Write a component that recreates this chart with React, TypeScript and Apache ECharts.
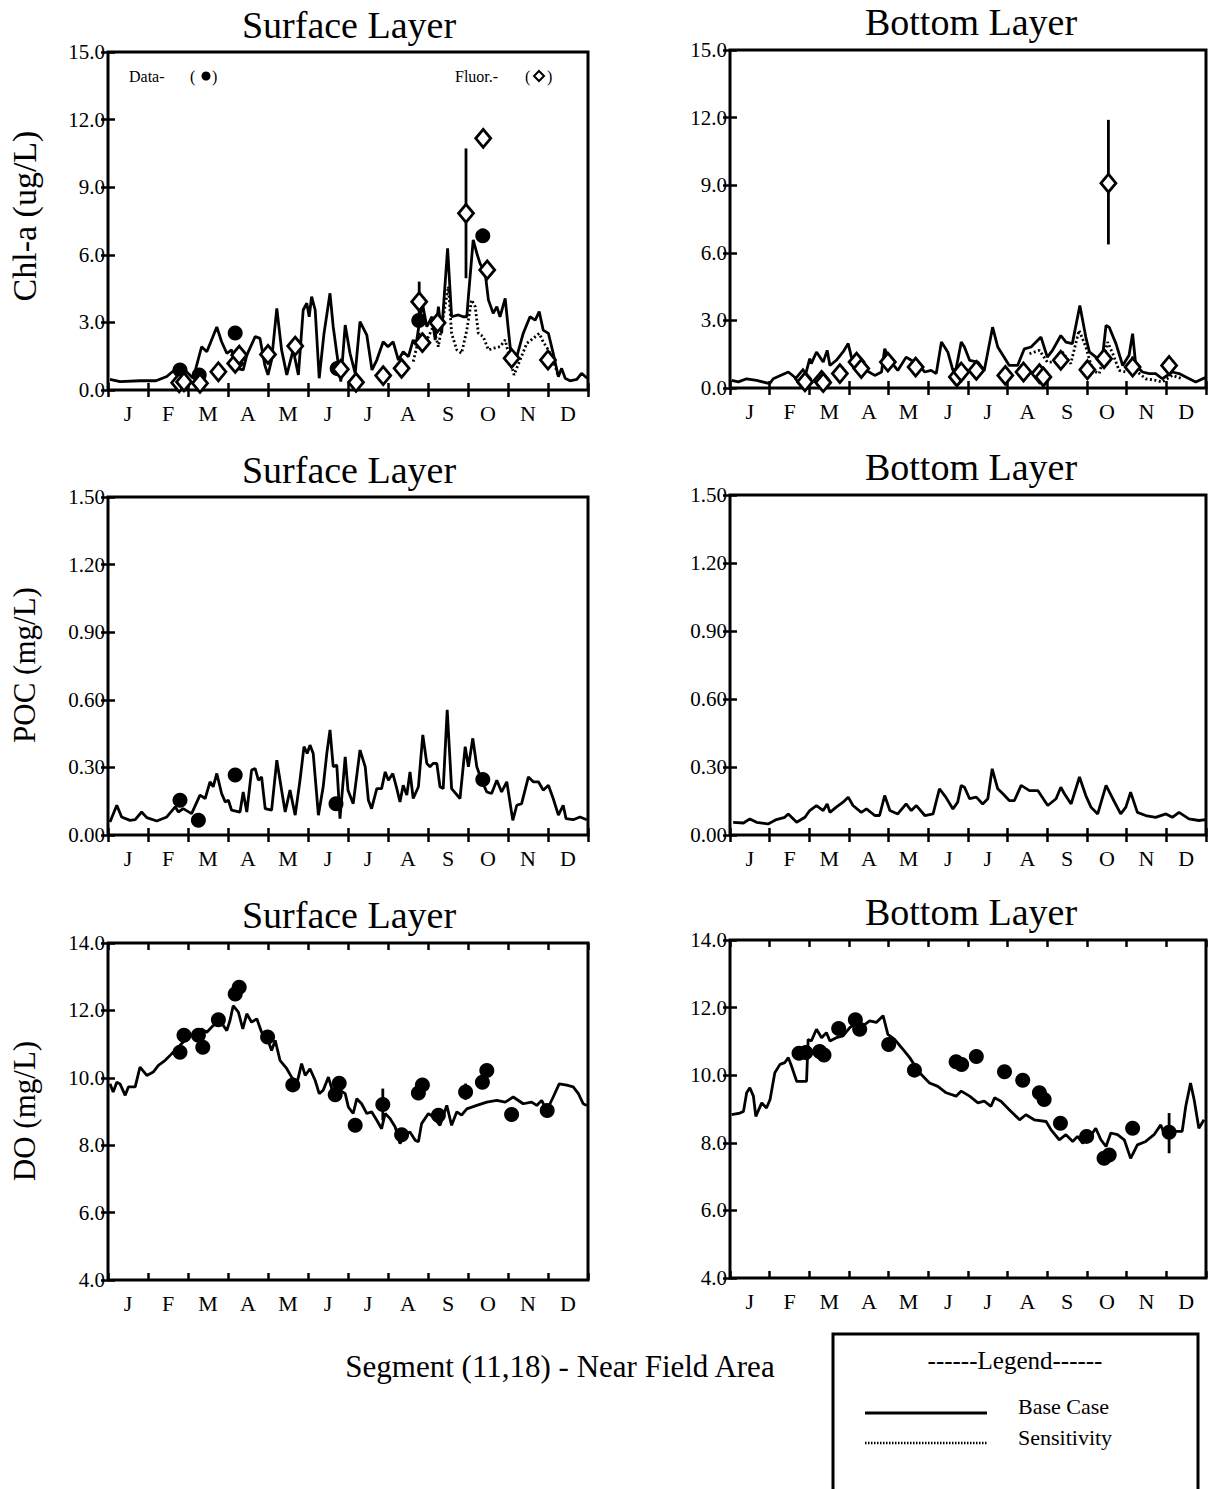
import React, { useEffect, useRef } from "react";
import * as echarts from "echarts";

type P = [number, number];
type E = [number, number, number];

const MONTHS = ["J", "F", "M", "A", "M", "J", "J", "A", "S", "O", "N", "D"];
const TITLES = ["Surface Layer", "Bottom Layer"];
const Y_NAMES = ["Chl-a (ug/L)", "POC (mg/L)", "DO (mg/L)"];
const CAPTION = "Segment (11,18) - Near Field Area";

// x values are months from Jan 1 (0) to Dec 31 (12)

// ---------- Chl-a, surface ----------
const chlSurfBase: P[] = [
  [0.05, 0.47], [0.3, 0.37], [0.8, 0.41], [1.2, 0.41], [1.47, 0.6], [1.8, 1.1], [2.0, 0.74], [2.13, 0.52],
  [2.34, 1.92], [2.47, 1.7], [2.72, 2.8], [2.84, 2.14], [2.97, 1.63], [3.09, 1.78], [3.22, 0.96], [3.38, 0.89],
  [3.47, 1.55], [3.68, 2.37], [3.8, 2.29], [3.92, 1.11], [4.0, 0.67], [4.09, 1.33], [4.22, 3.62], [4.34, 1.78],
  [4.47, 0.67], [4.63, 1.78], [4.76, 0.67], [4.88, 3.55], [4.97, 3.85], [5.03, 3.25], [5.09, 4.14], [5.18, 3.55],
  [5.28, 0.52], [5.4, 2.51], [5.55, 4.29], [5.63, 2.81], [5.72, 1.63], [5.82, 0.37], [5.93, 2.88], [6.05, 1.63],
  [6.18, 0.74], [6.3, 3.03], [6.47, 2.44], [6.6, 0.89], [6.72, 1.33], [6.88, 2.14], [7.0, 1.92], [7.13, 2.14],
  [7.26, 1.33], [7.38, 1.7], [7.51, 1.48], [7.63, 2.22], [7.7, 2.0], [7.86, 3.85], [7.97, 2.81], [8.1, 3.25],
  [8.18, 2.22], [8.26, 3.7], [8.34, 2.51], [8.49, 6.29], [8.59, 3.25], [8.76, 3.33], [8.88, 3.25], [8.97, 3.25],
  [9.01, 4.14], [9.13, 6.66], [9.22, 6.07], [9.3, 5.62], [9.43, 5.18], [9.51, 4.0], [9.63, 3.4], [9.72, 3.7],
  [9.8, 3.25], [9.93, 4.07], [10.01, 2.66], [10.09, 1.33], [10.22, 1.48], [10.38, 2.51], [10.55, 3.25], [10.68, 3.1],
  [10.78, 3.48], [10.88, 2.66], [11.01, 2.51], [11.13, 1.63], [11.26, 0.59], [11.34, 0.96], [11.43, 0.52], [11.55, 0.41],
  [11.72, 0.47], [11.84, 0.74], [11.98, 0.52],
];
const chlSurfSens: P[] = [
  [7.63, 1.26], [7.8, 2.51], [7.97, 2.22], [8.13, 2.81], [8.26, 1.92], [8.38, 3.25], [8.51, 4.59], [8.59, 2.51],
  [8.72, 1.78], [8.84, 1.63], [8.97, 2.66], [9.09, 4.0], [9.18, 3.7], [9.26, 2.51], [9.38, 2.37], [9.51, 1.78],
  [9.63, 1.85], [9.8, 1.92], [9.93, 2.22], [10.05, 1.33], [10.15, 0.67], [10.3, 1.33], [10.47, 2.07], [10.63, 2.29],
  [10.78, 2.51], [10.88, 2.14], [11.01, 1.78], [11.13, 1.33], [11.26, 0.59],
];
const chlSurfData: P[] = [[1.8, 0.89], [2.28, 0.67], [3.18, 2.53], [5.73, 0.95], [7.77, 3.08], [9.37, 6.84]];
const chlSurfFluor: P[] = [
  [1.78, 0.32], [1.9, 0.36], [2.3, 0.3], [2.76, 0.81], [3.18, 1.18], [3.28, 1.55], [4.0, 1.58], [4.68, 1.95],
  [5.82, 0.92], [6.2, 0.34], [6.88, 0.64], [7.34, 0.96], [7.78, 3.92], [7.86, 2.1], [8.24, 2.98], [8.95, 7.84],
  [9.38, 11.17], [9.48, 5.33], [10.09, 1.41], [11.0, 1.33],
];
const chlSurfErr: E[] = [[7.78, 2.96, 4.81], [8.95, 4.96, 10.72]];

// ---------- Chl-a, bottom ----------
const chlBotBase: P[] = [
  [0.04, 0.34], [0.21, 0.27], [0.42, 0.41], [0.67, 0.34], [1.0, 0.19], [1.09, 0.41], [1.47, 0.71], [1.68, 0.41],
  [1.89, 0.49], [2.01, 1.3], [2.05, 1.08], [2.18, 1.6], [2.35, 1.15], [2.45, 1.67], [2.52, 1.0], [2.68, 1.23],
  [2.85, 1.6], [2.98, 1.97], [3.06, 1.37], [3.23, 1.15], [3.44, 0.78], [3.65, 0.56], [3.82, 0.71], [3.9, 1.74],
  [4.03, 1.23], [4.23, 0.78], [4.44, 1.37], [4.57, 1.23], [4.7, 1.15], [4.91, 0.71], [5.07, 0.78], [5.2, 0.64],
  [5.33, 2.04], [5.49, 1.6], [5.62, 0.78], [5.7, 0.86], [5.83, 2.04], [5.91, 1.82], [6.04, 1.23], [6.25, 1.15],
  [6.41, 0.78], [6.62, 2.7], [6.75, 1.82], [6.88, 1.45], [7.04, 1.0], [7.25, 1.0], [7.42, 1.74], [7.59, 1.82],
  [7.84, 2.26], [8.0, 1.37], [8.13, 1.67], [8.34, 2.33], [8.47, 2.04], [8.63, 1.97], [8.82, 3.66], [8.97, 2.26],
  [9.06, 1.6], [9.27, 1.3], [9.4, 1.52], [9.48, 2.78], [9.56, 2.7], [9.73, 1.97], [9.9, 1.0], [10.06, 1.45],
  [10.15, 2.41], [10.23, 1.0], [10.4, 0.71], [10.57, 0.64], [10.73, 0.64], [10.9, 0.41], [11.15, 0.71], [11.32, 0.64],
  [11.49, 0.49], [11.74, 0.27], [11.98, 0.46],
];
const chlBotSens: P[] = [
  [7.55, 1.52], [7.8, 1.67], [8.0, 1.15], [8.22, 1.15], [8.38, 1.6], [8.59, 1.08], [8.8, 2.56], [8.97, 1.82],
  [9.14, 0.78], [9.31, 0.64], [9.52, 2.04], [9.65, 1.52], [9.81, 0.78], [9.98, 0.71], [10.15, 1.37], [10.27, 0.71],
  [10.48, 0.41], [10.73, 0.34], [10.9, 0.27], [11.15, 0.56], [11.4, 0.41],
];
const chlBotFluor: P[] = [
  [1.84, 0.41], [1.89, 0.27], [2.31, 0.34], [2.35, 0.24], [2.77, 0.64], [3.19, 1.15], [3.31, 0.86], [3.98, 1.15],
  [4.68, 0.93], [5.72, 0.49], [5.83, 0.71], [6.21, 0.78], [6.94, 0.56], [7.4, 0.71], [7.8, 0.64], [7.9, 0.49],
  [8.34, 1.23], [9.01, 0.81], [9.43, 1.3], [9.54, 9.09], [10.15, 0.93], [11.07, 1.0],
];
const chlBotErr: E[] = [[9.54, 6.37, 11.9]];

// ---------- POC, surface ----------
const pocSurfBase: P[] = [
  [0.05, 0.058], [0.22, 0.132], [0.34, 0.08], [0.55, 0.065], [0.68, 0.068], [0.84, 0.102], [0.97, 0.077], [1.22, 0.062],
  [1.47, 0.08], [1.68, 0.125], [1.76, 0.102], [1.88, 0.117], [2.09, 0.095], [2.3, 0.177], [2.43, 0.162], [2.55, 0.236],
  [2.63, 0.214], [2.72, 0.273], [2.84, 0.184], [2.93, 0.147], [3.01, 0.154], [3.09, 0.11], [3.3, 0.102], [3.38, 0.191],
  [3.47, 0.102], [3.59, 0.288], [3.68, 0.295], [3.76, 0.243], [3.84, 0.258], [3.93, 0.117], [4.09, 0.11], [4.22, 0.332],
  [4.34, 0.199], [4.43, 0.102], [4.55, 0.199], [4.68, 0.088], [4.8, 0.243], [4.9, 0.392], [4.98, 0.362], [5.05, 0.399],
  [5.13, 0.362], [5.26, 0.088], [5.38, 0.214], [5.47, 0.362], [5.55, 0.466], [5.63, 0.303], [5.72, 0.31], [5.8, 0.073],
  [5.93, 0.347], [6.0, 0.199], [6.13, 0.139], [6.3, 0.377], [6.43, 0.303], [6.51, 0.154], [6.59, 0.117], [6.72, 0.206],
  [6.84, 0.206], [6.93, 0.28], [7.01, 0.243], [7.12, 0.273], [7.22, 0.206], [7.3, 0.147], [7.38, 0.221], [7.47, 0.177],
  [7.55, 0.28], [7.63, 0.162], [7.76, 0.214], [7.87, 0.444], [7.97, 0.318], [8.05, 0.303], [8.13, 0.318], [8.22, 0.318],
  [8.3, 0.214], [8.38, 0.206], [8.48, 0.555], [8.59, 0.206], [8.8, 0.162], [8.93, 0.392], [9.01, 0.303], [9.12, 0.429],
  [9.22, 0.303], [9.34, 0.243], [9.47, 0.191], [9.59, 0.184], [9.72, 0.243], [9.84, 0.191], [9.97, 0.236], [10.12, 0.065],
  [10.22, 0.132], [10.34, 0.139], [10.51, 0.258], [10.63, 0.236], [10.76, 0.236], [10.88, 0.199], [11.01, 0.221], [11.13, 0.162],
  [11.26, 0.088], [11.38, 0.132], [11.45, 0.073], [11.63, 0.068], [11.8, 0.08], [11.97, 0.068],
];
const pocSurfData: P[] = [[1.8, 0.154], [2.26, 0.065], [3.18, 0.266], [5.7, 0.139], [9.37, 0.246]];

// ---------- POC, bottom ----------
const pocBotBase: P[] = [
  [0.08, 0.056], [0.34, 0.053], [0.5, 0.071], [0.67, 0.056], [0.96, 0.049], [1.17, 0.068], [1.38, 0.078], [1.47, 0.093],
  [1.68, 0.056], [1.89, 0.078], [2.01, 0.108], [2.18, 0.13], [2.35, 0.108], [2.45, 0.137], [2.52, 0.1], [2.68, 0.123],
  [2.85, 0.145], [2.98, 0.167], [3.1, 0.13], [3.31, 0.1], [3.44, 0.115], [3.65, 0.086], [3.77, 0.086], [3.9, 0.174],
  [4.03, 0.108], [4.23, 0.093], [4.44, 0.137], [4.57, 0.108], [4.7, 0.13], [4.91, 0.086], [5.12, 0.093], [5.28, 0.204],
  [5.44, 0.167], [5.62, 0.115], [5.74, 0.145], [5.83, 0.219], [5.91, 0.211], [6.04, 0.16], [6.21, 0.167], [6.37, 0.137],
  [6.5, 0.16], [6.61, 0.292], [6.75, 0.204], [6.88, 0.182], [7.04, 0.152], [7.17, 0.152], [7.34, 0.219], [7.55, 0.196],
  [7.76, 0.196], [8.01, 0.13], [8.22, 0.16], [8.34, 0.211], [8.43, 0.182], [8.6, 0.137], [8.81, 0.256], [8.97, 0.174],
  [9.1, 0.123], [9.27, 0.093], [9.48, 0.219], [9.65, 0.16], [9.85, 0.093], [9.98, 0.123], [10.1, 0.189], [10.27, 0.1],
  [10.48, 0.086], [10.73, 0.078], [10.99, 0.093], [11.15, 0.078], [11.32, 0.1], [11.57, 0.071], [11.82, 0.064], [11.99, 0.068],
];

// ---------- DO, surface ----------
const doSurfBase: P[] = [
  [0.05, 9.82], [0.13, 9.58], [0.22, 9.87], [0.3, 9.82], [0.43, 9.48], [0.51, 9.73], [0.68, 9.73], [0.8, 10.32],
  [0.97, 10.07], [1.13, 10.17], [1.26, 10.37], [1.43, 10.52], [1.59, 10.71], [1.72, 10.86], [1.88, 11.06], [2.01, 11.21],
  [2.13, 11.31], [2.26, 11.35], [2.34, 11.45], [2.47, 11.35], [2.63, 11.55], [2.8, 11.7], [2.97, 11.4], [3.05, 11.7],
  [3.13, 12.14], [3.26, 11.95], [3.37, 11.45], [3.47, 11.9], [3.59, 11.65], [3.72, 11.75], [3.84, 11.35], [3.97, 11.21],
  [4.09, 10.81], [4.18, 11.11], [4.3, 10.52], [4.47, 10.27], [4.59, 10.02], [4.72, 9.82], [4.84, 10.42], [4.93, 10.07],
  [5.05, 10.27], [5.18, 9.92], [5.28, 9.53], [5.38, 9.63], [5.51, 10.02], [5.63, 9.53], [5.8, 9.63], [5.93, 9.53],
  [6.01, 9.13], [6.13, 8.94], [6.22, 9.38], [6.34, 9.23], [6.47, 8.94], [6.59, 8.99], [6.72, 8.74], [6.84, 8.49],
  [6.93, 8.94], [7.05, 8.79], [7.18, 8.54], [7.3, 8.05], [7.43, 8.34], [7.55, 8.39], [7.68, 8.15], [7.76, 8.1],
  [7.84, 8.64], [8.01, 8.94], [8.13, 8.84], [8.3, 8.59], [8.47, 9.18], [8.59, 8.59], [8.72, 8.99], [8.84, 8.89],
  [8.97, 9.08], [9.22, 9.18], [9.47, 9.28], [9.72, 9.33], [9.93, 9.28], [10.13, 9.43], [10.38, 9.23], [10.59, 9.28],
  [10.72, 9.18], [10.84, 9.33], [10.97, 9.03], [11.13, 9.43], [11.28, 9.82], [11.47, 9.78], [11.63, 9.73], [11.76, 9.53],
  [11.88, 9.23], [11.97, 9.18],
];
const doSurfData: P[] = [
  [1.8, 10.76], [1.9, 11.26], [2.26, 11.26], [2.37, 10.91], [2.76, 11.72], [3.18, 12.49], [3.28, 12.69], [3.99, 11.21],
  [4.62, 9.79], [5.78, 9.84], [5.68, 9.5], [6.18, 8.59], [6.87, 9.21], [7.34, 8.31], [7.76, 9.55], [7.86, 9.79],
  [8.26, 8.89], [8.94, 9.58], [9.36, 9.87], [9.47, 10.22], [10.09, 8.91], [10.98, 9.03],
];
const doSurfErr: E[] = [[6.87, 8.74, 9.68], [8.94, 9.35, 9.83]];

// ---------- DO, bottom ----------
const doBotBase: P[] = [
  [0.04, 8.83], [0.25, 8.88], [0.34, 8.93], [0.42, 9.48], [0.5, 9.63], [0.59, 9.38], [0.65, 8.78], [0.8, 9.18],
  [0.92, 9.03], [1.01, 9.28], [1.13, 10.07], [1.26, 10.32], [1.38, 10.37], [1.47, 10.52], [1.55, 10.27], [1.68, 9.82],
  [1.76, 9.82], [1.93, 9.82], [1.97, 11.06], [2.05, 11.01], [2.18, 11.36], [2.31, 11.11], [2.43, 11.26], [2.52, 11.01],
  [2.68, 11.11], [2.85, 11.16], [3.02, 11.41], [3.14, 11.51], [3.35, 11.46], [3.52, 11.61], [3.69, 11.56], [3.86, 11.76],
  [3.98, 11.21], [4.15, 11.06], [4.32, 10.82], [4.53, 10.52], [4.78, 10.07], [5.03, 9.77], [5.24, 9.67], [5.45, 9.48],
  [5.7, 9.38], [5.83, 9.53], [6.04, 9.38], [6.25, 9.18], [6.41, 9.23], [6.58, 9.08], [6.67, 9.33], [6.83, 9.23],
  [7.04, 8.98], [7.3, 8.68], [7.46, 8.83], [7.67, 8.68], [7.97, 8.63], [8.09, 8.39], [8.3, 8.09], [8.47, 8.24],
  [8.64, 8.04], [8.76, 8.19], [8.89, 7.99], [9.06, 8.14], [9.22, 8.43], [9.35, 8.09], [9.48, 7.89], [9.6, 8.29],
  [9.77, 8.24], [9.94, 8.09], [10.1, 7.54], [10.27, 7.94], [10.48, 8.04], [10.69, 8.24], [10.86, 8.53], [10.94, 8.29],
  [11.07, 8.34], [11.4, 8.34], [11.49, 9.08], [11.61, 9.77], [11.7, 9.28], [11.82, 8.43], [11.95, 8.68],
];
const doBotData: P[] = [
  [1.74, 10.65], [1.91, 10.67], [2.26, 10.7], [2.37, 10.6], [2.74, 11.38], [3.16, 11.64], [3.27, 11.36], [4.0, 10.91],
  [4.65, 10.15], [5.7, 10.4], [5.84, 10.32], [6.21, 10.55], [6.92, 10.1], [7.38, 9.85], [7.8, 9.48], [7.92, 9.28],
  [8.33, 8.58], [8.99, 8.19], [9.43, 7.54], [9.56, 7.64], [10.15, 8.43], [11.07, 8.31],
];
const doBotErr: E[] = [[11.07, 7.69, 8.88]];

// y-axis ranges per row
const Y_MIN = [0, 0, 4];
const Y_MAX = [15, 1.5, 14];
const Y_STEP = [3, 0.3, 2];
const Y_DEC = [1, 2, 1];

const FONT = "Liberation Serif";

interface Panel {
  base: P[];
  sens?: P[];
  data?: P[];
  fluor?: P[];
  err?: E[];
}

const PANELS: Panel[] = [
  { base: chlSurfBase, sens: chlSurfSens, data: chlSurfData, fluor: chlSurfFluor, err: chlSurfErr },
  { base: chlBotBase, sens: chlBotSens, fluor: chlBotFluor, err: chlBotErr },
  { base: pocSurfBase, data: pocSurfData },
  { base: pocBotBase },
  { base: doSurfBase, data: doSurfData, err: doSurfErr },
  { base: doBotBase, data: doBotData, err: doBotErr },
];

const GRIDS = [
  { left: 108, top: 52, width: 480, height: 338 },
  { left: 730, top: 50, width: 476, height: 338 },
  { left: 108, top: 497, width: 480, height: 338 },
  { left: 730, top: 495, width: 476, height: 340 },
  { left: 108, top: 943, width: 480, height: 337 },
  { left: 730, top: 940, width: 476, height: 338 },
];

function buildOption() {
  const grid: any[] = [];
  const xAxis: any[] = [];
  const yAxis: any[] = [];
  const series: any[] = [];

  GRIDS.forEach((g, i) => {
    const row = Math.floor(i / 2);
    grid.push({ ...g, show: true, borderColor: "#000", borderWidth: 3, backgroundColor: "transparent", containLabel: false });
    const tick = { show: true, inside: true, length: 7, lineStyle: { color: "#000", width: 2.5 } };
    xAxis.push({
      type: "value", gridIndex: i, min: 0, max: 12, interval: 1, position: "bottom",
      axisLine: { show: false }, axisTick: tick, axisLabel: { show: false }, splitLine: { show: false },
    });
    xAxis.push({
      type: "value", gridIndex: i, min: 0, max: 12, interval: 1, position: "top",
      axisLine: { show: false }, axisTick: tick, axisLabel: { show: false }, splitLine: { show: false },
    });
    xAxis.push({
      type: "category", gridIndex: i, data: MONTHS, position: "bottom", boundaryGap: true,
      axisLine: { show: false }, axisTick: { show: false }, splitLine: { show: false },
      axisLabel: { show: true, interval: 0, margin: 12, color: "#000", fontFamily: FONT, fontSize: 22 },
    });
    yAxis.push({
      type: "value", gridIndex: i, min: Y_MIN[row], max: Y_MAX[row], interval: Y_STEP[row], position: "left",
      axisLine: { show: false }, axisTick: tick, splitLine: { show: false },
      axisLabel: {
        show: true, margin: 3, color: "#000", fontFamily: FONT, fontSize: 21,
        formatter: (v: number) => v.toFixed(Y_DEC[row]),
      },
    });
    yAxis.push({
      type: "value", gridIndex: i, min: Y_MIN[row], max: Y_MAX[row], interval: Y_STEP[row], position: "right",
      axisLine: { show: false }, axisTick: tick, axisLabel: { show: false }, splitLine: { show: false },
    });

    const p = PANELS[i];
    const xi = i * 3;
    const yi = i * 2;
    series.push({
      type: "line", xAxisIndex: xi, yAxisIndex: yi, data: p.base, showSymbol: false, symbol: "none",
      lineStyle: { color: "#000", width: 2.8 }, z: 3, silent: true,
    });
    if (p.sens) {
      series.push({
        type: "line", xAxisIndex: xi, yAxisIndex: yi, data: p.sens, showSymbol: false, symbol: "none",
        lineStyle: { color: "#000", width: 2.8, type: [2, 2.5] }, z: 2, silent: true,
      });
    }
    if (p.err) {
      series.push({
        type: "custom", xAxisIndex: xi, yAxisIndex: yi, data: p.err, z: 4, silent: true,
        encode: { x: 0, y: [1, 2] },
        renderItem: (_params: any, api: any) => {
          const a = api.coord([api.value(0), api.value(1)]);
          const b = api.coord([api.value(0), api.value(2)]);
          return {
            type: "line",
            shape: { x1: a[0], y1: a[1], x2: b[0], y2: b[1] },
            style: { stroke: "#000", lineWidth: 2.8 },
          };
        },
      });
    }
    if (p.data) {
      series.push({
        type: "scatter", xAxisIndex: xi, yAxisIndex: yi, data: p.data, symbol: "circle", symbolSize: 15,
        itemStyle: { color: "#000", opacity: 1 }, z: 5, silent: true,
      });
    }
    if (p.fluor) {
      series.push({
        type: "scatter", xAxisIndex: xi, yAxisIndex: yi, data: p.fluor, symbol: "diamond", symbolSize: [15, 18],
        itemStyle: { color: "#fff", borderColor: "#000", borderWidth: 2.8, opacity: 1 }, z: 6, silent: true,
      });
    }
  });

  const txt = (text: string, x: number, y: number, size: number, align = "center", rotation = 0) => ({
    type: "text", x, y, rotation, silent: true,
    style: { text, fill: "#000", font: `${size}px "${FONT}"`, textAlign: align, textVerticalAlign: "middle" },
  });

  const graphic: any[] = [
    txt(TITLES[0], 349, 25, 38), txt(TITLES[1], 971, 22, 38),
    txt(TITLES[0], 349, 470, 38), txt(TITLES[1], 971, 467, 38),
    txt(TITLES[0], 349, 915, 38), txt(TITLES[1], 971, 912, 38),
    txt(Y_NAMES[0], 24, 216, 34, "center", Math.PI / 2),
    txt(Y_NAMES[1], 24, 665, 31, "center", Math.PI / 2),
    txt(Y_NAMES[2], 24, 1111, 31, "center", Math.PI / 2),
    txt(CAPTION, 560, 1366, 31),
    // in-plot marker key
    txt("Data-", 129, 76, 16, "left"),
    txt("(", 190, 76, 16, "left"),
    { type: "circle", silent: true, shape: { cx: 206, cy: 76, r: 4.5 }, style: { fill: "#000" } },
    txt(")", 212, 76, 16, "left"),
    txt("Fluor.-", 455, 76, 16, "left"),
    txt("(", 525, 76, 16, "left"),
    {
      type: "polygon", silent: true,
      shape: { points: [[539, 71], [544, 76], [539, 81], [534, 76]] },
      style: { fill: "#fff", stroke: "#000", lineWidth: 2 },
    },
    txt(")", 547, 76, 16, "left"),
    // legend box
    { type: "rect", silent: true, shape: { x: 833, y: 1334, width: 365, height: 170 }, style: { fill: "none", stroke: "#000", lineWidth: 3 } },
    txt("------Legend------", 1015, 1360, 25),
    { type: "line", silent: true, shape: { x1: 865, y1: 1413, x2: 987, y2: 1413 }, style: { stroke: "#000", lineWidth: 3 } },
    { type: "line", silent: true, shape: { x1: 865, y1: 1443, x2: 987, y2: 1443 }, style: { stroke: "#000", lineWidth: 2.5, lineDash: [1.5, 1.5] } },
    txt("Base Case", 1018, 1406, 22, "left"),
    txt("Sensitivity", 1018, 1437, 22, "left"),
  ];

  return {
    animation: false,
    backgroundColor: "#fff",
    grid, xAxis, yAxis, series, graphic,
  };
}

export default function App() {
  const ref = useRef<HTMLDivElement>(null);
  useEffect(() => {
    if (!ref.current) return;
    const chart = echarts.init(ref.current, undefined, { renderer: "svg" });
    chart.setOption(buildOption() as any);
    return () => chart.dispose();
  }, []);
  return (
    <div
      ref={ref}
      style={{ position: "absolute", left: 0, top: 0, width: 1208, height: 1489, background: "#fff" }}
    />
  );
}
